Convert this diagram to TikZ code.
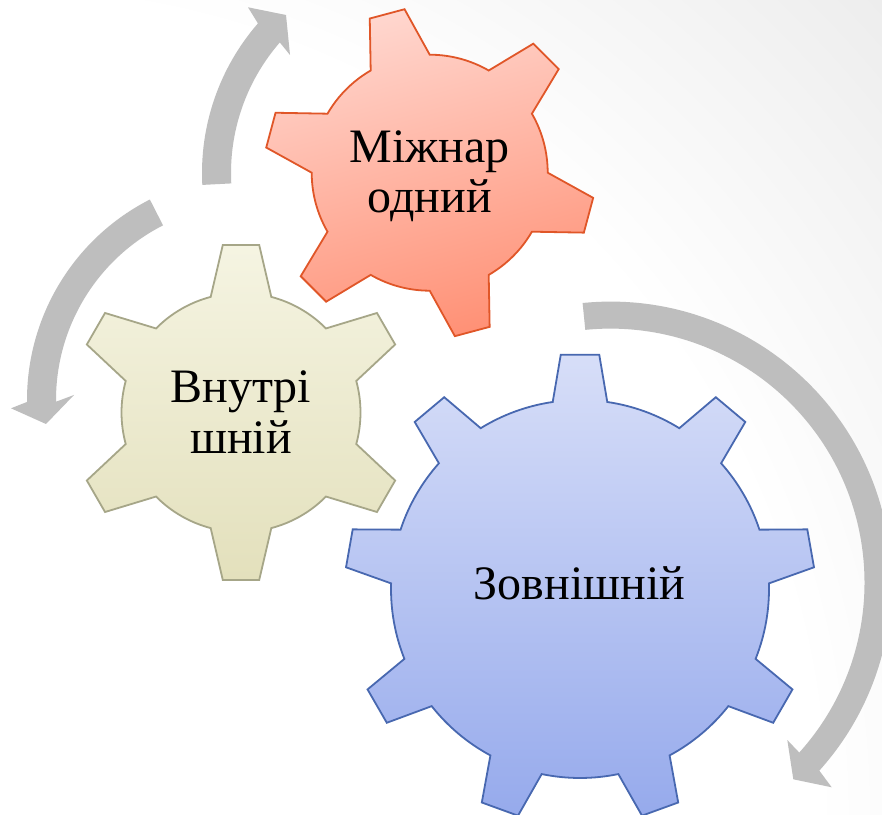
\documentclass[tikz,border=0pt]{standalone}
\usepackage{fontspec}
\setmainfont{Liberation Serif}
\usetikzlibrary{calc}
\definecolor{arrowgray}{RGB}{190,190,190}
\definecolor{bggray}{RGB}{237,237,237}
\definecolor{redtop}{RGB}{255,214,206}
\definecolor{redbot}{RGB}{255,145,118}
\definecolor{redline}{RGB}{224,86,40}
\definecolor{beigetop}{RGB}{245,244,226}
\definecolor{beigebot}{RGB}{227,224,188}
\definecolor{beigeline}{RGB}{166,166,136}
\definecolor{bluetop}{RGB}{215,222,248}
\definecolor{bluebot}{RGB}{150,170,236}
\definecolor{blueline}{RGB}{72,104,176}
\pgfdeclareradialshading{bgsh}{\pgfpoint{0bp}{0bp}}{color(0bp)=(white); color(17bp)=(white); color(25bp)=(bggray); color(50bp)=(bggray)}
\tikzset{
  gearred/.style={shade, draw=redline, line width=1.8pt, line join=miter, top color=redtop, bottom color=redbot, shading angle=15},
  gearbeige/.style={shade, draw=beigeline, line width=1.8pt, line join=miter, top color=beigetop, bottom color=beigebot},
  gearblue/.style={shade, draw=blueline, line width=1.8pt, line join=miter, top color=bluetop, bottom color=bluebot},
  arrowband/.style={fill=arrowgray},
  gearlabel/.style={anchor=base, inner sep=0pt, text=black, font=\fontsize{48}{50}\selectfont}
}
\begin{document}
\begin{tikzpicture}[x=1pt,y=1pt]
\useasboundingbox (0,0) rectangle (882,814);
\begin{scope}
  \clip (0,0) rectangle (882,814);
  \shade[shading=bgsh] (0,0) circle (1200);
\end{scope}

% arrows
\coordinate (ca) at (430,641);
\coordinate (cb) at (252,414);
\coordinate (cc) at (610.5,231.4);
\fill[arrowband] ($(ca)+(183:228)$) arc[start angle=183, end angle=139, radius=228]
  -- (248,806.7) -- (286,799) -- (290,759)
  -- ($(ca)+(139:199)$) arc[start angle=139, end angle=183, radius=199] -- cycle;
\fill[arrowband] ($(cb)+(117:225)$) arc[start angle=117, end angle=180.5, radius=225]
  -- (11,405.7) -- (46,390) -- (74,419)
  -- ($(cb)+(180.5:196)$) arc[start angle=180.5, end angle=117, radius=196] -- cycle;
\fill[arrowband] ($(cc)+(95.7:281)$) arc[start angle=95.7, end angle=-42, radius=281]
  -- (831.7,26.7) -- (793.3,34.7) -- (787.3,74)
  -- ($(cc)+(-42:254)$) arc[start angle=-42, end angle=95.7, radius=254] -- cycle;

% beige gear
\begin{scope}[shift={(241,401.5)}]
  \path[gearbeige] (90-14.7:119.5)
    \foreach \k in {0,...,5} {
      -- ({90+60*\k-6.2}:168.5) -- ({90+60*\k+6.2}:168.5) -- ({90+60*\k+14.7}:119.5)
      arc[start angle={90+60*\k+14.7}, end angle={150+60*\k-14.7}, radius=119.5]
    } -- cycle;
\end{scope}
% red gear
\begin{scope}[shift={(429.7,641.3)}]
  \path[gearred] (105-15:118)
    \foreach \k in {0,...,5} {
      -- ({105+60*\k-6.25}:165.4) -- ({105+60*\k+6.25}:165.4) -- ({105+60*\k+15}:118)
      arc[start angle={105+60*\k+15}, end angle={165+60*\k-15}, radius=118]
    } -- cycle;
\end{scope}
% blue gear
\begin{scope}[shift={(580,225)}]
  \path[gearblue] (90-8.3:189)
    \foreach \k in {0,...,8} {
      -- ({90+40*\k-4.7}:235) -- ({90+40*\k+4.7}:235) -- ({90+40*\k+8.3}:189)
      arc[start angle={90+40*\k+8.3}, end angle={130+40*\k-8.3}, radius=189]
    } -- cycle;
\end{scope}

% labels
\node[gearlabel] (t1a) at (429.7,651) {Міжнар};
\node[gearlabel] (t1b) at (429.7,601) {одний};
\node[gearlabel] (t2a) at (241,411.3) {Внутрі};
\node[gearlabel] (t2b) at (241,360) {шній};
\node[gearlabel] (t3) at (579.5,214.7) {Зовнішній};
\end{tikzpicture}
\end{document}
